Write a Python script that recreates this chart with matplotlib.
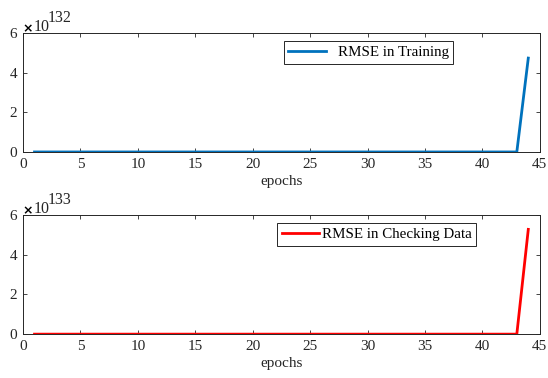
import numpy as np
import matplotlib
matplotlib.use('Agg')
import matplotlib.pyplot as plt

plt.rcParams['font.family'] = ['Liberation Serif', 'DejaVu Serif']

# values are in units of the exponent shown above each axis
epochs = list(range(1, 45))
rmse_train = [0.0] * 43 + [4.73]      # x 10^132
rmse_check = [0.0] * 43 + [5.28]      # x 10^133
train_exp = 132
check_exp = 133
xticks = [0, 5, 10, 15, 20, 25, 30, 35, 40, 45]
yticks = [0, 2, 4, 6]

fig = plt.figure(figsize=(5.48, 3.78), dpi=100)
ax1 = fig.add_axes([0.042, 0.598, 0.943, 0.315])
ax2 = fig.add_axes([0.042, 0.116, 0.943, 0.315])

edge = '#262626'
setups = [
    (ax1, rmse_train, train_exp, '#0072BD', 'RMSE in Training', (0.505, 0.93), 0.8),
    (ax2, rmse_check, check_exp, '#FF0000', 'RMSE in Checking Data', (0.492, 0.93), 0.15),
]
for ax, y, exp, color, label, lpos, tpad in setups:
    ax.plot(epochs, y, color=color, lw=2, label=label)
    ax.set_xlim(0, 45)
    ax.set_ylim(0, 6)
    ax.set_xticks(xticks)
    ax.set_yticks(yticks)
    ax.tick_params(direction='in', top=True, right=True, length=3, width=0.6,
                   labelsize=11, colors=edge, pad=4)
    for s in ax.spines.values():
        s.set_color(edge)
        s.set_linewidth(0.7)
    ax.set_xlabel('epochs', fontsize=11, color=edge, labelpad=3)

    # MATLAB-style exponent label above the top-left corner
    ax.annotate('×', xy=(0, 1), xycoords='axes fraction', xytext=(3.6, 2.9),
                textcoords='offset points', ha='center', va='center',
                fontsize=9, fontweight='bold', family='DejaVu Sans', color='black')
    ax.annotate('10', xy=(0, 1), xycoords='axes fraction', xytext=(8, 1.4),
                textcoords='offset points', ha='left', va='baseline',
                fontsize=11.5, color=edge)
    ax.annotate(str(exp), xy=(0, 1), xycoords='axes fraction', xytext=(18, 8),
                textcoords='offset points', ha='left', va='baseline',
                fontsize=11.5, color=edge)

    leg = ax.legend(loc='upper left', bbox_to_anchor=lpos, fontsize=10.8,
                    fancybox=False, framealpha=1, edgecolor=edge,
                    handlelength=2.5, handletextpad=tpad, borderpad=0.3,
                    borderaxespad=0)
    leg.get_frame().set_linewidth(0.7)

fig.savefig('out.png', dpi=100)
